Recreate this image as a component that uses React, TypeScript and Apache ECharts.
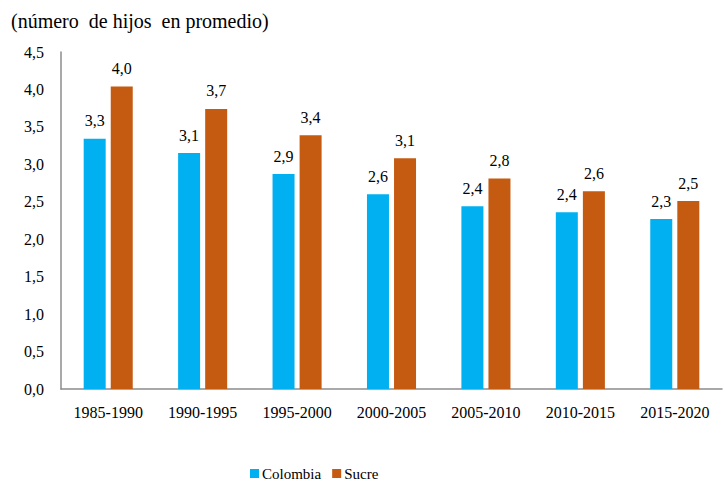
import React, { useEffect, useRef } from "react";
import * as echarts from "echarts";

const categories = ["1985-1990", "1990-1995", "1995-2000", "2000-2005", "2005-2010", "2010-2015", "2015-2020"];
const colombia = [3.34, 3.15, 2.87, 2.6, 2.44, 2.36, 2.27];
const sucre = [4.04, 3.74, 3.39, 3.08, 2.81, 2.64, 2.51];
const yTicks = { min: 0, max: 4.5, interval: 0.5 };

const FONT = "Times New Roman, Liberation Serif, serif";
const fmt = (v: number, d: number) => v.toFixed(d).replace(".", ",");

export default function App() {
  const ref = useRef<HTMLDivElement>(null);
  useEffect(() => {
    if (!ref.current) return;
    const chart = echarts.init(ref.current, undefined, { renderer: "svg" });
    const label = {
      show: true,
      position: "top" as const,
      distance: 10,
      color: "#000",
      fontFamily: FONT,
      fontSize: 16,
      formatter: (p: any) => fmt(p.value, 1),
    };
    chart.setOption({
      animation: false,
      textStyle: { fontFamily: FONT },
      title: {
        text: "(número  de hijos  en promedio)",
        left: 6,
        top: 6,
        textStyle: { fontFamily: FONT, fontSize: 20, fontWeight: "normal", color: "#000" },
      },
      legend: {
        left: 245,
        top: 461,
        itemWidth: 9,
        itemHeight: 9,
        itemGap: 11,
        icon: "rect",
        textStyle: { fontFamily: FONT, fontSize: 15, color: "#000", padding: [0, 0, 0, -2] },
        data: ["Colombia", "Sucre"],
      },
      grid: { left: 61, right: 3, top: 52, bottom: 94 },
      xAxis: {
        type: "category",
        data: categories,
        axisLine: { lineStyle: { color: "#8c8c8c", width: 1.5 } },
        axisTick: { show: false },
        axisLabel: { color: "#000", fontFamily: FONT, fontSize: 16, margin: 15, interval: 0 },
      },
      yAxis: {
        type: "value",
        min: yTicks.min,
        max: yTicks.max,
        interval: yTicks.interval,
        axisLine: { show: true, lineStyle: { color: "#8c8c8c", width: 1.5 } },
        axisTick: { show: false },
        splitLine: { show: false },
        axisLabel: { color: "#000", fontFamily: FONT, fontSize: 16, margin: 17, formatter: (v: number) => fmt(v, 1) },
      },
      series: [
        {
          name: "Colombia",
          type: "bar",
          data: colombia,
          barWidth: 22,
          barGap: "23%",
          itemStyle: { color: "#00B0F0" },
          label,
        },
        {
          name: "Sucre",
          type: "bar",
          data: sucre,
          barWidth: 22,
          barGap: "23%",
          itemStyle: { color: "#C55A11" },
          label,
        },
      ],
    });
    return () => chart.dispose();
  }, []);
  return <div ref={ref} style={{ width: 725, height: 483, position: "absolute", left: 0, top: 0 }} />;
}
